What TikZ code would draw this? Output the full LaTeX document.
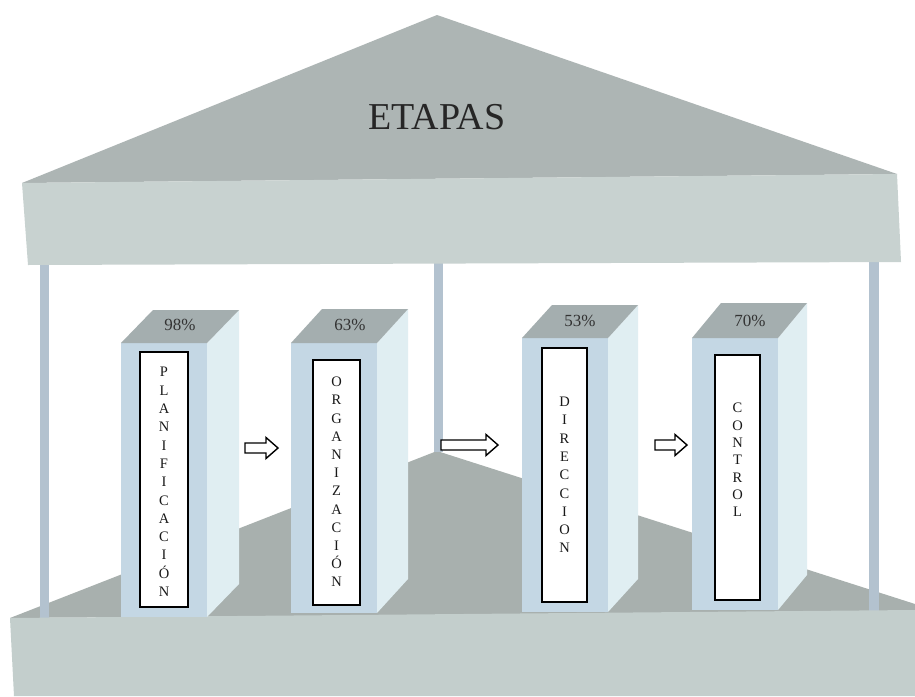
\documentclass[tikz,border=0pt]{standalone}
\usepackage{fontspec}
\setmainfont{Liberation Serif}
\definecolor{rooftone}{HTML}{ADB5B4}
\definecolor{friezetone}{HTML}{C8D2D0}
\definecolor{slabtone}{HTML}{C3CECC}
\definecolor{floortone}{HTML}{A8B0AE}
\definecolor{poletone}{HTML}{B3C2CF}
\definecolor{fronttone}{HTML}{C4D7E4}
\definecolor{sidetone}{HTML}{E0EEF2}
\definecolor{toptone}{HTML}{A4AEAF}
\tikzset{
  labelbox/.style={draw=black, line width=1.4pt, fill=white, inner sep=0pt},
  vletters/.style={font=\fontsize{14.5}{18.3}\selectfont, align=center, inner sep=0pt, text=black!90},
  pct/.style={font=\fontsize{17}{17}\selectfont, inner sep=0pt, text=black!80},
  blockarrow/.style={draw=black, line width=1.4pt, fill=white, line join=miter}
}
% prism column: #1 front left x, #2 front right x, #3 front top y, #4 bottom y, #5 depth x, #6 depth y
\newcommand{\prism}[6]{%
  \fill[fronttone] (#1,#3) rectangle (#2,#4);
  \fill[sidetone] (#2,#3) -- (#2+#5,#3-#6) -- (#2+#5,#4-#6) -- (#2,#4) -- cycle;
  \fill[toptone] (#1,#3) -- (#1+#5,#3-#6) -- (#2+#5,#3-#6) -- (#2,#3) -- cycle;
}
% hollow block arrow: #1 tail x, #2 tip x, #3 centre y
\newcommand{\hollowarrow}[3]{%
  \draw[blockarrow] (#1,#3-5) -- (#2-12,#3-5) -- (#2-12,#3-10.5) -- (#2,#3) -- (#2-12,#3+10.5) -- (#2-12,#3+5) -- (#1,#3+5) -- cycle;
}
\begin{document}
\begin{tikzpicture}[x=1pt,y=-1pt]
\useasboundingbox (0,0) rectangle (915,696);
\fill[white] (0,0) rectangle (915,696);

% floor surface rising to the back
\fill[floortone] (10,618) -- (437,451) -- (915,604) -- (915,612) -- cycle;

% poles
\fill[poletone] (40,262) rectangle (49,620);
\fill[poletone] (434,262) rectangle (443,452);
\fill[poletone] (869,262) rectangle (879,612);

% front of the base slab
\fill[slabtone] (10,618) -- (915,610) -- (915,696) -- (14,696) -- cycle;

% roof and frieze
\fill[rooftone] (22,183) -- (437,15) -- (897,174) -- cycle;
\fill[friezetone] (22,183) -- (897,174) -- (901,262) -- (28,265) -- cycle;
\node[font=\fontsize{38}{38}\selectfont, inner sep=0pt, text=black!85] (title) at (437,117) {ETAPAS};

% columns
\prism{121}{207}{343}{617}{32}{33}
\prism{291}{377}{343}{613}{31}{34}
\prism{522}{608}{338}{612}{30}{33}
\prism{692}{778}{338}{610}{29}{35}

\node[pct] (p1) at (180,325) {98\%};
\node[pct] (p2) at (350,325) {63\%};
\node[pct] (p3) at (580,321) {53\%};
\node[pct] (p4) at (750,321) {70\%};

\node[labelbox, minimum width=48pt, minimum height=255pt] (b1) at (164,479.5) {};
\node[labelbox, minimum width=47pt, minimum height=245pt] (b2) at (336.5,482.5) {};
\node[labelbox, minimum width=45pt, minimum height=254pt] (b3) at (564.5,475) {};
\node[labelbox, minimum width=45pt, minimum height=245pt] (b4) at (737.5,477.5) {};

\node[vletters] (t1) at (164,482) {P\\L\\A\\N\\I\\F\\I\\C\\A\\C\\I\\Ó\\N};
\node[vletters, font=\fontsize{14.5}{18.2}\selectfont] (t2) at (336.5,482) {O\\R\\G\\A\\N\\I\\Z\\A\\C\\I\\Ó\\N};
\node[vletters] (t3) at (564.5,475) {D\\I\\R\\E\\C\\C\\I\\O\\N};
\node[vletters, font=\fontsize{14.5}{17.3}\selectfont] (t4) at (737.5,460) {C\\O\\N\\T\\R\\O\\L};

% arrows between the stages
\hollowarrow{245}{278}{448}
\hollowarrow{441}{498}{445}
\hollowarrow{655}{687}{445}
\end{tikzpicture}
\end{document}
